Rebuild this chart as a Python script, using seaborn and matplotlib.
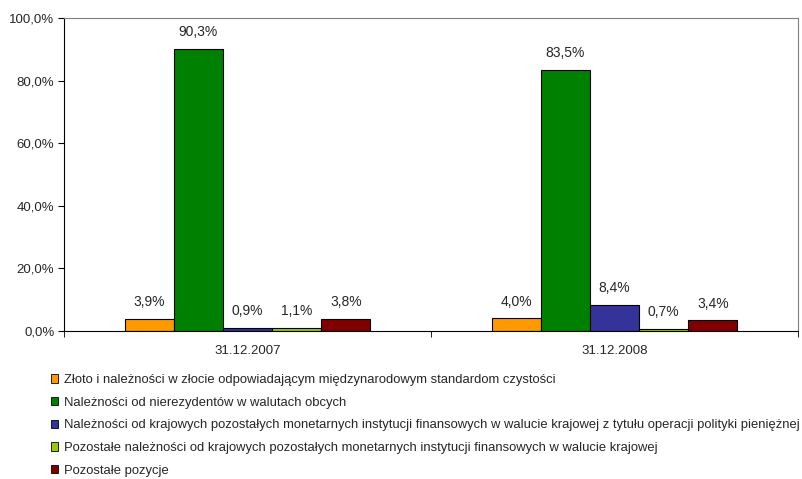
import matplotlib
matplotlib.use("Agg")
import matplotlib.pyplot as plt
import pandas as pd
import seaborn as sns
from matplotlib.patches import Patch

# data
dates = ["31.12.2007", "31.12.2008"]
series = [
    "Złoto i należności w złocie odpowiadającym międzynarodowym standardom czystości",
    "Należności od nierezydentów w walutach obcych",
    "Należności od krajowych pozostałych monetarnych instytucji finansowych w walucie krajowej z tytułu operacji polityki pieniężnej",
    "Pozostałe należności od krajowych pozostałych monetarnych instytucji finansowych w walucie krajowej",
    "Pozostałe pozycje",
]
values_2007 = [3.9, 90.3, 0.9, 1.1, 3.8]
values_2008 = [4.0, 83.5, 8.4, 0.7, 3.4]
colors = ["#FF9900", "#008000", "#333399", "#99CC00", "#800000"]

rows = []
for d, vals in zip(dates, [values_2007, values_2008]):
    for s, v in zip(series, vals):
        rows.append({"data": d, "seria": s, "udzial": v})
df = pd.DataFrame(rows)

sns.set_style("white")
plt.rcParams["font.family"] = ["Liberation Sans", "DejaVu Sans"]

fig = plt.figure(figsize=(8.03, 4.79), dpi=100)
ax = fig.add_axes([0.0797, 0.309, 0.914, 0.653])

sns.barplot(
    data=df, x="data", y="udzial", hue="seria", hue_order=series,
    palette=colors, saturation=1, width=0.67, edgecolor="black",
    linewidth=0.8, legend=False, ax=ax,
)

for cont in ax.containers:
    labels = [("%.1f%%" % b.get_height()).replace(".", ",") for b in cont]
    ax.bar_label(cont, labels=labels, padding=7, fontsize=10)

ax.set_ylim(0, 100)
ax.set_xlim(-0.5, 1.5)
ax.set_yticks(range(0, 101, 20))
ax.set_yticklabels([("%.1f%%" % t).replace(".", ",") for t in range(0, 101, 20)], fontsize=9.5)
ax.set_xlabel("")
ax.set_ylabel("")
ax.tick_params(axis="x", which="major", length=0, labelsize=9.5, pad=10)
ax.set_xticks([-0.5, 0.5, 1.5], minor=True)
ax.tick_params(axis="x", which="minor", length=4, direction="out", color="black", bottom=True)
ax.tick_params(axis="y", length=4, direction="out", color="black", left=True, pad=3)

for side in ["top", "right"]:
    ax.spines[side].set_color("#808080")
    ax.spines[side].set_linewidth(0.8)
for side in ["left", "bottom"]:
    ax.spines[side].set_color("black")
    ax.spines[side].set_linewidth(0.8)

handles = [Patch(facecolor=c, edgecolor="black", linewidth=0.6) for c in colors]
fig.legend(
    handles, series, loc="upper left", bbox_to_anchor=(0.063, 0.219),
    frameon=False, fontsize=9.35, handlelength=0.6, handleheight=0.6,
    handletextpad=0.4, labelspacing=0.82, borderpad=0, borderaxespad=0,
)

fig.savefig("out.png", dpi=100)
